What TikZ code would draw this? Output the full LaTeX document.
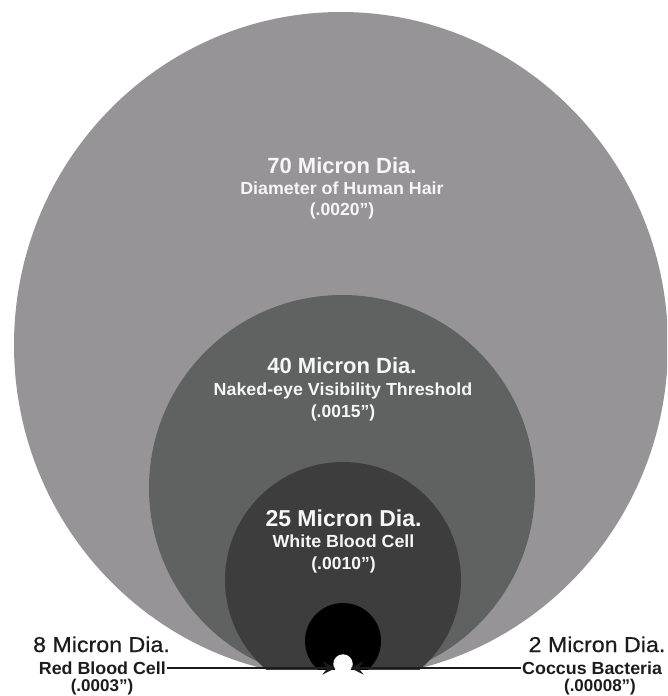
\documentclass[tikz,border=0pt]{standalone}
\usepackage{fontspec}
\usetikzlibrary{arrows.meta}
\setmainfont{Liberation Sans}
\newfontfamily\titlefont{Liberation Sans}
\newfontfamily\subfont{Liberation Sans}[FakeStretch=1.02]
\newfontfamily\numfont{Liberation Sans}
\newfontfamily\outfont{Liberation Sans}[FakeStretch=1.08, FakeBold=0.6]
\definecolor{hairgray}{RGB}{150,148,151}
\definecolor{eyegray}{RGB}{96,97,97}
\definecolor{wbcgray}{RGB}{61,61,61}
\definecolor{intext}{RGB}{246,246,246}
\definecolor{outtext}{RGB}{28,28,28}
\tikzset{
  intitle/.style={text=intext, inner sep=0pt, anchor=base, font=\titlefont\bfseries\fontsize{22pt}{22pt}\selectfont},
  bigtitle/.style={intitle, font=\titlefont\bfseries\fontsize{23pt}{23pt}\selectfont},
  insub/.style={text=intext, inner sep=0pt, anchor=base, font=\subfont\bfseries\fontsize{17.5pt}{17.5pt}\selectfont},
  innum/.style={text=intext, inner sep=0pt, anchor=base, font=\numfont\bfseries\fontsize{17.5pt}{17.5pt}\selectfont},
  outtitle/.style={text=outtext, inner sep=0pt, anchor=base, font=\outfont\fontsize{21.5pt}{21.5pt}\selectfont},
  outsub/.style={text=outtext, inner sep=1pt, font=\subfont\bfseries\fontsize{17.5pt}{17.5pt}\selectfont},
  outnum/.style={text=outtext, inner sep=0pt, anchor=base, font=\numfont\bfseries\fontsize{17pt}{17pt}\selectfont},
  pointer/.style={draw=outtext, line width=2.3pt, -{Stealth[length=13pt, width=13pt, inset=5pt]}}
}
\begin{document}
\begin{tikzpicture}[x=1pt, y=-1pt]
\useasboundingbox (0,0) rectangle (667,696);
\fill[white] (0,0) rectangle (667,696);
\begin{scope}
  \clip (0,0) rectangle (667,669);
  \fill[hairgray] (341,345) ellipse [x radius=327, y radius=333];
  \fill[eyegray] (342,488) circle [radius=193];
  \fill[wbcgray] (343,580) circle [radius=118];
  \fill[black] (343,641) circle [radius=38];
\end{scope}
\node[circle, fill=white, minimum size=19.5pt, inner sep=0pt] (coccus) at (343,664) {};
\coordinate (lefttip) at (335.5,668);
\coordinate (righttip) at (350.5,668);

% 70 micron
\node[intitle] (t70) at (342,173) {70 Micron Dia.};
\node[insub] (s70) at (342,194) {Diameter of Human Hair};
\node[innum] (n70) at (342,215) {(.0020”)};
% 40 micron
\node[intitle] (t40) at (342,373) {40 Micron Dia.};
\node[insub] (s40) at (343,395) {Naked-eye Visibility Threshold};
\node[innum] (n40) at (343,417) {(.0015”)};
% 25 micron
\node[bigtitle] (t25) at (343.5,526) {25 Micron Dia.};
\node[insub] (s25) at (343.5,547) {White Blood Cell};
\node[innum] (n25) at (343.5,569) {(.0010”)};

% bottom labels
\node[outtitle] (m8) at (101.5,652) {8 Micron Dia.};
\node[outsub, anchor=east] (rbc) at (167,668) {Red Blood Cell};
\node[outnum] (n8) at (102,691.5) {(.0003”)};
\node[outtitle] (m2) at (597,652) {2 Micron Dia.};
\node[outsub, anchor=west] (cb) at (521,668) {Coccus Bacteria};
\node[outnum] (n2) at (600,691.5) {(.00008”)};

\draw[pointer] (rbc.east) -- (lefttip);
\draw[pointer] (cb.west) -- (righttip);
\end{tikzpicture}
\end{document}
